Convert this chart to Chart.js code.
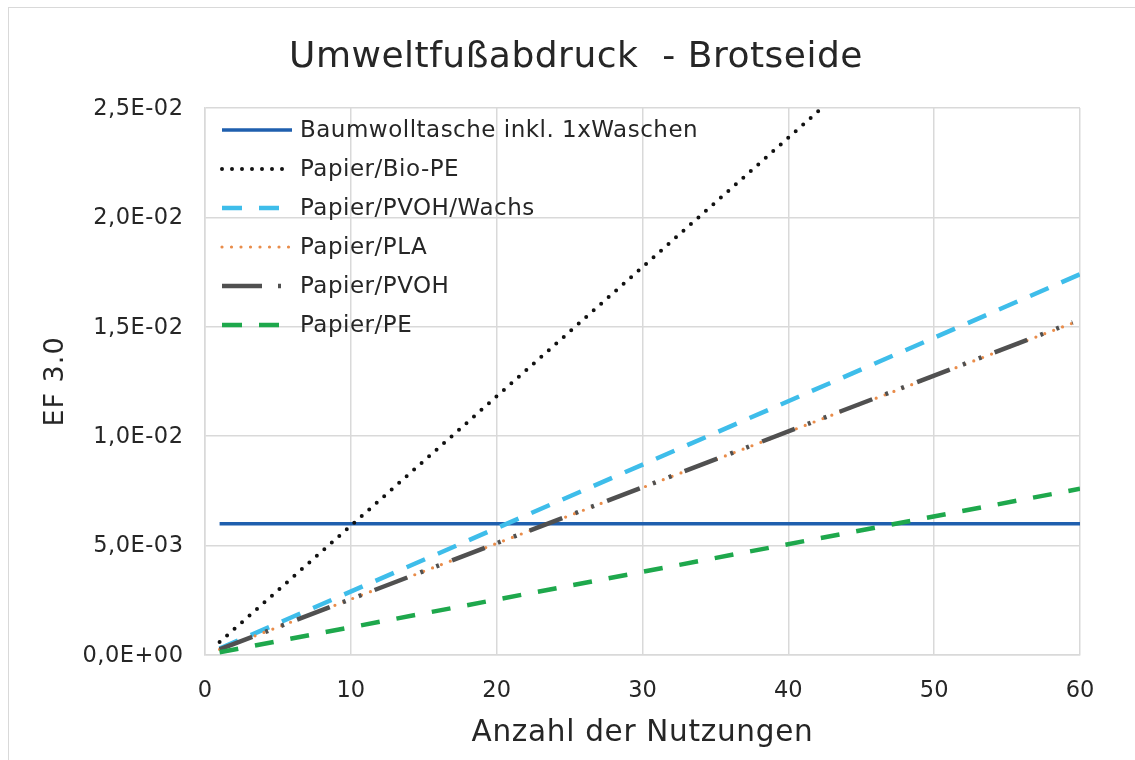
<!DOCTYPE html>
<html>
<head>
<meta charset="utf-8">
<script src="https://cdn.jsdelivr.net/npm/chart.js@4.4.1/dist/chart.umd.min.js"></script>
<style>
  html, body { margin: 0; padding: 0; background: #fff; }
  #wrap { position: relative; width: 1135px; height: 760px; overflow: hidden; }
  #frame { position: absolute; left: 8px; top: 7px; width: 1140px; height: 770px; border: 1px solid #d9d9d9; box-sizing: border-box; }
  canvas { position: absolute; left: 0; top: 0; }
</style>
</head>
<body>
<div id="wrap">
  <div id="frame"></div>
  <canvas id="c" width="1135" height="760"></canvas>
</div>
<script>
// ---- data ----
const titleText = "Umweltfußabdruck  - Brotseide";
const xTitle = "Anzahl der Nutzungen";
const yTitle = "EF 3.0";
const seriesNames = ["Baumwolltasche inkl. 1xWaschen", "Papier/Bio-PE", "Papier/PVOH/Wachs", "Papier/PLA", "Papier/PVOH", "Papier/PE"];

const usesBaumwolle = [1, 60];
const baumwolle = [6.0e-3, 6.0e-3];
const usesBioPE = [1, 42.3];
const bioPE = [5.9e-4, 2.5e-2];
const usesWachs = [1, 60];
const wachs = [2.9e-4, 1.74e-2];
const usesPLA = [1, 60];
const pla = [2.55e-4, 1.53e-2];
const usesPVOH = [1, 59.5];
const pvoh = [2.55e-4, 1.52e-2];
const usesPE = [1, 60];
const pe = [1.27e-4, 7.6e-3];

const xTicks = [0, 10, 20, 30, 40, 50, 60];
const yTicks = [0, 5e-3, 1e-2, 1.5e-2, 2e-2, 2.5e-2];

// ---- styles ----
const FONT = "'DejaVu Sans', Verdana, sans-serif";
const TXT = '#262626';
const styles = [
  { color: '#1f5fae', width: 3.5, dash: [], cap: 'butt', legendDash: [] },
  { color: '#111111', width: 4, dash: [0, 10], cap: 'round', legendDash: [0, 10] },
  { color: '#3ebdea', width: 4.5, dash: [20, 14], cap: 'butt', legendDash: [20, 17] },
  { color: '#e98c4a', width: 3.2, dash: [0, 9.5], cap: 'round', legendDash: [0, 9.5] },
  { color: '#505050', width: 4.5, dash: [35, 14, 3, 14, 3, 14], cap: 'butt', legendDash: [40, 16, 3, 30] },
  { color: '#1ea84c', width: 4.5, dash: [19, 17], cap: 'butt', legendDash: [20, 17] }
];
const xs = [usesBaumwolle, usesBioPE, usesWachs, usesPLA, usesPVOH, usesPE];
const ys = [baumwolle, bioPE, wachs, pla, pvoh, pe];

const datasets = seriesNames.map((name, i) => ({
  label: name,
  data: xs[i].map((x, k) => ({ x: x, y: ys[i][k] })),
  borderColor: styles[i].color,
  backgroundColor: styles[i].color,
  borderWidth: styles[i].width,
  borderDash: styles[i].dash,
  borderCapStyle: styles[i].cap,
  pointRadius: 0,
  pointHoverRadius: 0,
  tension: 0,
  fill: false,
  order: seriesNames.length - i
}));

function fmtSci(v) {
  if (v === 0) return '0,0E+00';
  let e = Math.floor(Math.log10(Math.abs(v)) + 1e-9);
  let m = v / Math.pow(10, e);
  if (Math.round(m * 10) / 10 >= 10) { e += 1; m = v / Math.pow(10, e); }
  const sign = e < 0 ? '-' : '+';
  const ee = String(Math.abs(e)).padStart(2, '0');
  return m.toFixed(1).replace('.', ',') + 'E' + sign + ee;
}

const textPlugin = {
  id: 'texts',
  afterDraw(chart) {
    const ctx = chart.ctx;
    const area = chart.chartArea;
    const ys = chart.scales.y;
    ctx.save();
    ctx.fillStyle = TXT;
    // title
    ctx.font = '36px ' + FONT;
    ctx.letterSpacing = '0.5px';
    ctx.textAlign = 'center';
    ctx.textBaseline = 'alphabetic';
    ctx.fillText(titleText, 576, 67);
    // y tick labels
    ctx.font = '22.5px ' + FONT;
    ctx.letterSpacing = '0.5px';
    ctx.textAlign = 'right';
    ctx.textBaseline = 'middle';
    yTicks.forEach(v => ctx.fillText(fmtSci(v), 183.5, ys.getPixelForValue(v) + 1));
    // x axis title
    ctx.font = '29.5px ' + FONT;
    ctx.letterSpacing = '0.7px';
    ctx.textAlign = 'center';
    ctx.textBaseline = 'alphabetic';
    ctx.fillText(xTitle, (area.left + area.right) / 2, 741);
    // y axis title
    ctx.save();
    ctx.translate(63, (area.top + area.bottom) / 2);
    ctx.rotate(-Math.PI / 2);
    ctx.font = '27px ' + FONT;
    ctx.letterSpacing = '1px';
    ctx.textAlign = 'center';
    ctx.textBaseline = 'alphabetic';
    ctx.fillText(yTitle, 0, 0);
    ctx.restore();
    ctx.letterSpacing = '0px';
    ctx.restore();
  },
  afterDatasetsDraw(chart) {
    const ctx = chart.ctx;
    const x0 = 222, x1 = 292, tx = 300;
    const rows = [130, 169, 208, 247, 286, 325];
    ctx.save();
    seriesNames.forEach((name, i) => {
      const s = styles[i];
      ctx.beginPath();
      ctx.strokeStyle = s.color;
      ctx.lineWidth = s.width;
      ctx.lineCap = s.cap;
      ctx.setLineDash(s.legendDash);
      ctx.moveTo(x0, rows[i]);
      ctx.lineTo(x1, rows[i]);
      ctx.stroke();
      ctx.setLineDash([]);
      ctx.fillStyle = TXT;
      ctx.font = '23px ' + FONT;
      ctx.letterSpacing = '0.5px';
      ctx.textBaseline = 'middle';
      ctx.textAlign = 'left';
      ctx.fillText(name, tx, rows[i] + 1);
    });
    ctx.letterSpacing = '0px';
    ctx.restore();
  }
};

new Chart(document.getElementById('c'), {
  type: 'line',
  data: { datasets: datasets },
  plugins: [textPlugin],
  options: {
    responsive: false,
    animation: false,
    events: [],
    layout: { padding: { left: 0, right: 55, top: 108, bottom: 0 } },
    plugins: {
      legend: { display: false },
      tooltip: { enabled: false },
      title: { display: false }
    },
    scales: {
      x: {
        type: 'linear',
        min: 0, max: 60,
        afterBuildTicks(scale) { scale.ticks = xTicks.map(v => ({ value: v })); },
        afterFit(scale) { scale.height = 105; },
        grid: { color: '#d9d9d9', lineWidth: 1.5, drawTicks: false },
        border: { color: '#d9d9d9', width: 1.5 },
        ticks: { color: TXT, font: { family: FONT, size: 22.5 }, padding: 23, maxRotation: 0 },
        title: { display: false }
      },
      y: {
        type: 'linear',
        min: 0, max: 0.025,
        afterBuildTicks(scale) { scale.ticks = yTicks.map(v => ({ value: v })); },
        afterFit(scale) { scale.width = 205; },
        grid: { color: '#d9d9d9', lineWidth: 1.5, drawTicks: false },
        border: { color: '#d9d9d9', width: 1.5 },
        ticks: { display: false },
        title: { display: false }
      }
    }
  }
});
</script>
</body>
</html>
